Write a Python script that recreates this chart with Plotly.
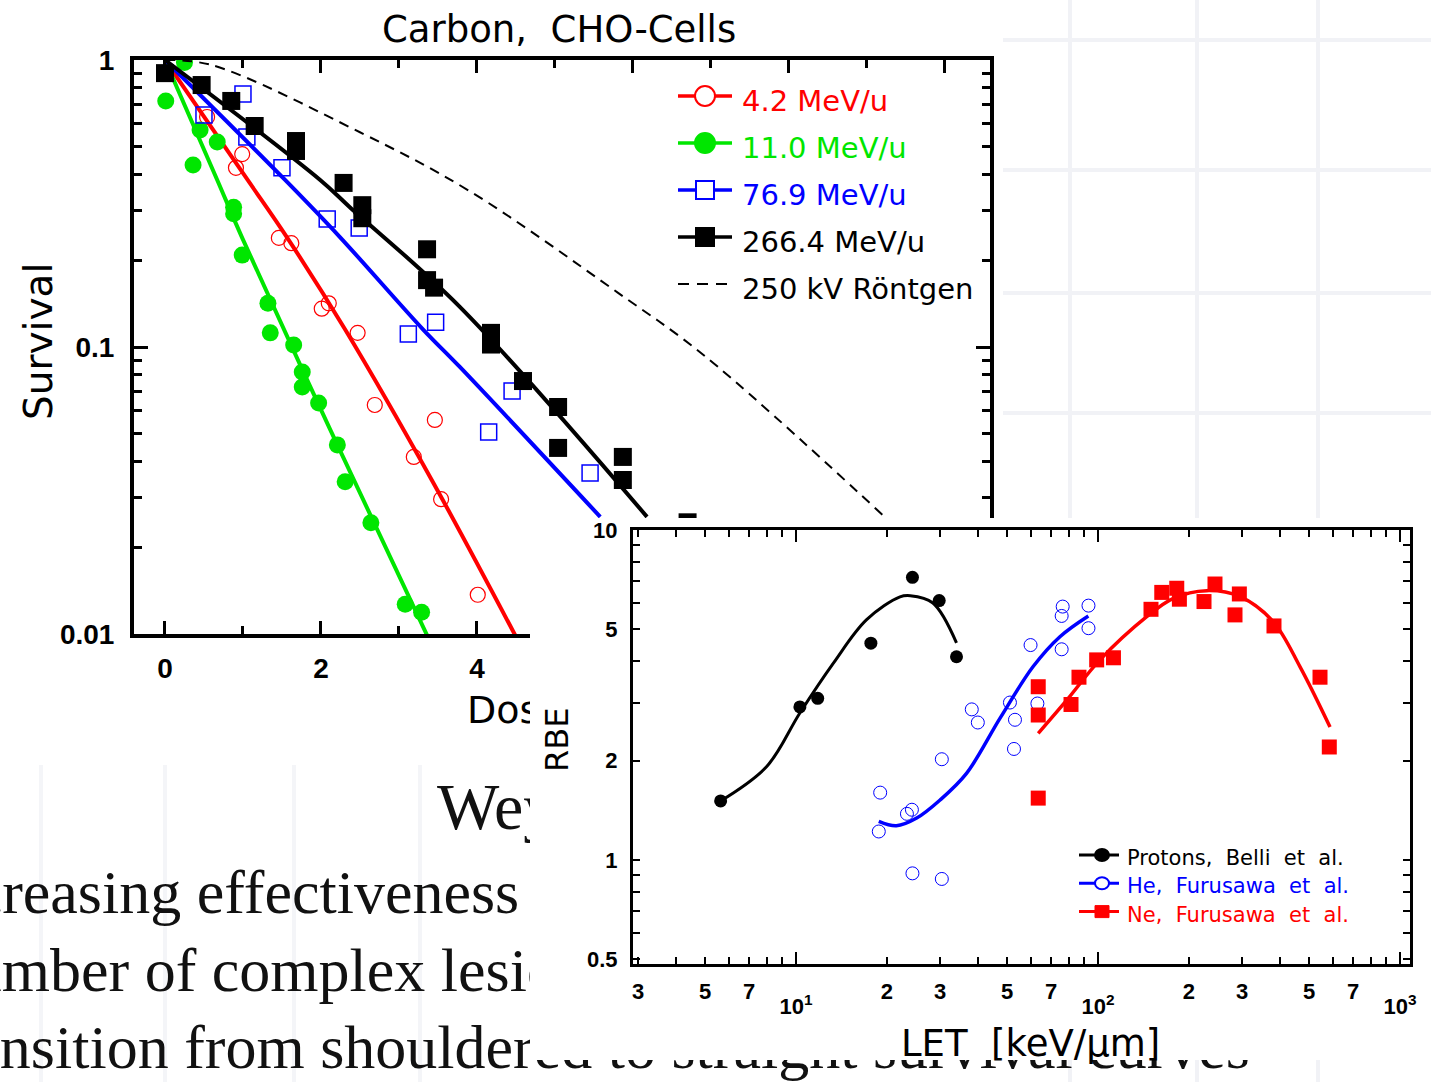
import plotly.graph_objects as go

W, H = 1431, 1082

# ---------------- Carbon ions on CHO cells: surviving fraction vs dose [Gy] ----------------
dose_42 = [0.54, 0.99, 0.91, 1.46, 1.62, 2.01, 2.10, 2.47, 2.69, 3.46, 3.19, 3.54, 4.01]
surv_42 = [0.633, 0.470, 0.421, 0.240, 0.230, 0.136, 0.142, 0.112, 0.0628, 0.0557, 0.0414, 0.0295, 0.0137]
fit_dose_42 = [0.0, 1.06, 1.56, 2.31, 3.42, 4.49]
fit_surv_42 = [1.0, 0.382, 0.242, 0.115, 0.0344, 0.0099]

dose_110 = [0.25, 0.01, 0.36, 0.45, 0.67, 0.88, 0.88, 0.99, 1.32, 1.35, 1.65, 1.76, 1.76,
            1.97, 2.21, 2.31, 2.64, 3.08, 3.29]
surv_110 = [0.98, 0.72, 0.431, 0.570, 0.518, 0.307, 0.291, 0.209, 0.142, 0.112, 0.1016, 0.0818,
            0.0726, 0.0638, 0.0456, 0.0339, 0.0244, 0.0127, 0.0119]
fit_dose_110 = [0.0, 0.67, 0.99, 2.12, 3.36]
fit_surv_110 = [1.0, 0.382, 0.240, 0.0514, 0.0099]

dose_769 = [0.50, 1.00, 1.05, 1.50, 2.08, 2.49, 3.12, 3.47, 4.45, 4.15, 5.45]
surv_769 = [0.643, 0.761, 0.539, 0.421, 0.279, 0.260, 0.111, 0.122, 0.0703, 0.0506, 0.0364]
fit_dose_769 = [0.0, 1.54, 2.24, 3.31, 3.78, 5.58]
fit_surv_769 = [1.0, 0.382, 0.242, 0.115, 0.0852, 0.0256]

dose_2664 = [0.0, 0.47, 0.85, 1.15, 1.68, 1.68, 2.29, 2.53, 2.53, 3.36, 3.36, 3.45, 4.18, 4.18,
             4.59, 5.04, 5.04, 5.87, 5.87, 6.70]
surv_2664 = [0.90, 0.818, 0.72, 0.589, 0.522, 0.482, 0.373, 0.312, 0.281, 0.219, 0.171, 0.161,
             0.112, 0.102, 0.0761, 0.0618, 0.0445, 0.0414, 0.0344, 0.0245]
fit_dose_2664 = [0.0, 1.99, 2.37, 3.78, 6.18]
fit_surv_2664 = [1.0, 0.382, 0.307, 0.138, 0.0256]

xray_dose = [0.0, 0.6, 2.5, 3.9, 5.8, 6.9, 9.2]
xray_surv = [1.0, 0.96, 0.56, 0.35, 0.155, 0.094, 0.026]

surv_labels = ["4.2 MeV/u", "11.0 MeV/u", "76.9 MeV/u", "266.4 MeV/u", "250 kV Röntgen"]

# ---------------- RBE vs LET [keV/um] ----------------
let_p = [5.63, 10.3, 11.8, 17.7, 24.3, 29.8, 34.0]
rbe_p = [1.51, 2.91, 3.09, 4.54, 7.19, 6.11, 4.13]
fit_let_p = [5.63, 8.0, 10.3, 13.3, 17.1, 22.1, 23.9, 28.4, 34.0]
fit_rbe_p = [1.51, 1.92, 2.79, 3.95, 5.34, 6.27, 6.32, 6.01, 4.55]

let_he = [19.0, 18.8, 23.3, 24.2, 24.3, 30.4, 30.4, 38.2, 40.0, 51.1, 53.1, 52.7, 63.0, 59.8,
          75.8, 76.4, 75.8, 93.0, 93.0]
rbe_he = [1.60, 1.22, 1.38, 1.42, 0.911, 0.876, 2.02, 2.86, 2.61, 3.00, 2.66, 2.17, 2.98, 4.48,
          5.49, 5.86, 4.35, 5.90, 5.04]
fit_let_he = [18.8, 21.5, 25.1, 30.0, 36.7, 47.4, 60.9, 74.8, 92.9]
fit_rbe_he = [1.31, 1.27, 1.34, 1.52, 1.83, 2.69, 3.85, 4.75, 5.49]

let_ne = [63.4, 63.4, 63.4, 81.4, 86.5, 99.0, 112.5, 149.8, 162.6, 182.3, 186.0, 224.4, 244.0,
          293.8, 284.2, 382.6, 543.4, 583.3]
rbe_ne = [3.35, 2.75, 1.54, 2.96, 3.58, 4.04, 4.10, 5.75, 6.47, 6.66, 6.17, 6.07, 6.86, 6.40,
          5.53, 5.12, 3.58, 2.20]
fit_let_ne = [63.4, 78.8, 101.5, 145.0, 177.6, 229.0, 295.3, 380.6, 466.7, 586.5]
fit_rbe_ne = [2.42, 3.05, 4.04, 5.46, 6.21, 6.55, 6.28, 5.27, 3.85, 2.53]

rbe_labels = ["Protons,  Belli  et  al.", "He,  Furusawa  et  al.", "Ne,  Furusawa  et  al."]

# digit labels inside each decade; the decades themselves get their own (lower) labels
let_ticks = [3, 5, 7, 20, 30, 50, 70, 200, 300, 500, 700]
let_ticktext = ["3", "5", "7", "2", "3", "5", "7", "2", "3", "5", "7"]
let_minor = [4, 6, 8, 9, 40, 60, 80, 90, 400, 600, 800, 900]
let_decades = [10, 100, 1000]
let_decade_text = ["10<sup>1</sup>", "10<sup>2</sup>", "10<sup>3</sup>"]
rbe_ticks = [0.5, 1, 2, 5, 10]
rbe_minor = [0.6, 0.7, 0.8, 0.9, 3, 4, 6, 7, 8, 9]
surv_ticks = [0.01, 0.1, 1]
surv_minor = [0.02, 0.03, 0.04, 0.05, 0.06, 0.07, 0.08, 0.09,
              0.2, 0.3, 0.4, 0.5, 0.6, 0.7, 0.8, 0.9]

# slide text lying behind the two figures (the dose-axis title sits on this layer too,
# so the inset card covers its right part)
page_text = ["Dose [Gy]", "Weyrather et al.", "Increasing effectiveness", "Number of complex lesions",
             "Transition from shouldered to straight survival curves"]
page_x = [467, 437, -77, -74, -84]
page_y = [713, 812, 897, 975, 1052]
page_font = ["DejaVu Sans", "Liberation Serif", "Liberation Serif", "Liberation Serif", "Liberation Serif"]
page_size = [38, 66, 62, 62, 62]
page_color = ["#000000", "#111111", "#111111", "#111111", "#111111"]

RED, GREEN, BLUE, BLACK = "#ff0000", "#00e600", "#0000ff", "#000000"


def fx(p):
    return p / W


def fy(p):
    return 1 - p / H


fig = go.Figure()

# ---- page layer (x/y) ----
fig.add_trace(go.Scatter(
    x=page_x, y=page_y, text=page_text, mode="text", textposition="middle right",
    textfont=dict(family=page_font, size=page_size, color=page_color),
    xaxis="x", yaxis="y", hoverinfo="skip", showlegend=False))

# ---- survival plot (x2/y2) ----
MAIN = dict(xaxis="x2", yaxis="y2", hoverinfo="skip", showlegend=False)
fig.add_trace(go.Scatter(x=dose_42, y=surv_42, mode="markers",
                         marker=dict(symbol="circle-open", size=15, color=RED, line=dict(width=1.2)), **MAIN))
fig.add_trace(go.Scatter(x=fit_dose_42, y=fit_surv_42, mode="lines", line=dict(color=RED, width=4, shape="spline"), **MAIN))
fig.add_trace(go.Scatter(x=dose_110, y=surv_110, mode="markers",
                         marker=dict(symbol="circle", size=17, color=GREEN), **MAIN))
fig.add_trace(go.Scatter(x=fit_dose_110, y=fit_surv_110, mode="lines", line=dict(color=GREEN, width=4, shape="spline"), **MAIN))
fig.add_trace(go.Scatter(x=dose_769, y=surv_769, mode="markers",
                         marker=dict(symbol="square-open", size=16, color=BLUE, line=dict(width=1.5)), **MAIN))
fig.add_trace(go.Scatter(x=fit_dose_769, y=fit_surv_769, mode="lines", line=dict(color=BLUE, width=4, shape="spline"), **MAIN))
fig.add_trace(go.Scatter(x=dose_2664, y=surv_2664, mode="markers",
                         marker=dict(symbol="square", size=18, color=BLACK), **MAIN))
fig.add_trace(go.Scatter(x=fit_dose_2664, y=fit_surv_2664, mode="lines", line=dict(color=BLACK, width=4, shape="spline"), **MAIN))
fig.add_trace(go.Scatter(x=xray_dose, y=xray_surv, mode="lines",
                         line=dict(color=BLACK, width=2, dash="10px,7px", shape="spline"), **MAIN))

# ---- white backing card of the inset (x3/y3) ----
fig.add_trace(go.Scatter(x=[], y=[], xaxis="x3", yaxis="y3", hoverinfo="skip", showlegend=False))

# ---- RBE inset (x4/y4) ----
INS = dict(xaxis="x4", yaxis="y4", hoverinfo="skip", showlegend=False)
fig.add_trace(go.Scatter(x=fit_let_p, y=fit_rbe_p, mode="lines", line=dict(color=BLACK, width=3, shape="spline"), **INS))
fig.add_trace(go.Scatter(x=let_p, y=rbe_p, mode="markers", marker=dict(symbol="circle", size=13, color=BLACK), **INS))
fig.add_trace(go.Scatter(x=fit_let_he, y=fit_rbe_he, mode="lines", line=dict(color=BLUE, width=3.5, shape="spline"), **INS))
fig.add_trace(go.Scatter(x=let_he, y=rbe_he, mode="markers",
                         marker=dict(symbol="circle-open", size=13, color=BLUE, line=dict(width=1)), **INS))
fig.add_trace(go.Scatter(x=fit_let_ne, y=fit_rbe_ne, mode="lines", line=dict(color=RED, width=3.5, shape="spline"), **INS))
fig.add_trace(go.Scatter(x=let_ne, y=rbe_ne, mode="markers", marker=dict(symbol="square", size=15, color=RED), **INS))
# decade ticks and their labels on an overlaid axis
fig.add_trace(go.Scatter(x=[None], y=[None], xaxis="x5", yaxis="y4", hoverinfo="skip", showlegend=False))


def tick_bold(s):
    return dict(family="Liberation Sans", size=s, color=BLACK, weight="bold")


layout_axes = dict(
    xaxis=dict(domain=[0, 1], range=[0, W], visible=False, fixedrange=True, automargin=False),
    yaxis=dict(domain=[0, 1], range=[H, 0], visible=False, fixedrange=True, automargin=False),
    xaxis2=dict(domain=[fx(134), fx(990)], anchor="y2", range=[-0.397, 10.577],
                showline=True, linewidth=4, linecolor=BLACK, mirror="ticks",
                ticks="inside", ticklen=13, tickwidth=3, tickcolor=BLACK,
                tick0=0, dtick=2, showgrid=False, zeroline=False,
                minor=dict(dtick=1, ticks="inside", ticklen=8, tickwidth=3, tickcolor=BLACK, showgrid=False),
                tickfont=tick_bold(28), ticklabelstandoff=6, fixedrange=True, automargin=False),
    yaxis2=dict(domain=[fy(634), fy(60)], anchor="x2", type="log", range=[-2, 0],
                showline=True, linewidth=4, linecolor=BLACK, mirror="ticks",
                ticks="inside", ticklen=14, tickwidth=3, tickcolor=BLACK,
                tickmode="array", tickvals=surv_ticks, ticktext=["0.01", "0.1", "1"],
                minor=dict(tickmode="array", tickvals=surv_minor, ticks="inside", ticklen=8,
                           tickwidth=3, tickcolor=BLACK, showgrid=False),
                showgrid=False, zeroline=False, tickfont=tick_bold(28), ticklabelstandoff=10,
                fixedrange=True, automargin=False),
    xaxis3=dict(domain=[fx(530), 1], anchor="y3", range=[0, 1], visible=False, fixedrange=True, automargin=False),
    yaxis3=dict(domain=[fy(1060), fy(518)], anchor="x3", range=[0, 1], visible=False, fixedrange=True,
                automargin=False),
    xaxis4=dict(domain=[fx(633), fx(1410)], anchor="y4", type="log", range=[0.4603, 3.0331],
                showline=True, linewidth=3, linecolor=BLACK, mirror="ticks",
                ticks="inside", ticklen=7, tickwidth=2, tickcolor=BLACK,
                tickmode="array", tickvals=let_ticks, ticktext=let_ticktext,
                minor=dict(tickmode="array", tickvals=let_minor, ticks="inside", ticklen=7,
                           tickwidth=2, tickcolor=BLACK, showgrid=False),
                showgrid=False, zeroline=False, tickfont=tick_bold(22), ticklabelstandoff=6,
                fixedrange=True, automargin=False),
    xaxis5=dict(overlaying="x4", anchor="y4", type="log", range=[0.4603, 3.0331],
                showline=False, mirror="ticks", ticks="inside", ticklen=12, tickwidth=2, tickcolor=BLACK,
                tickmode="array", tickvals=let_decades, ticktext=let_decade_text,
                tickfont=tick_bold(22), ticklabelstandoff=27,
                showgrid=False, zeroline=False, fixedrange=True, automargin=False),
    yaxis4=dict(domain=[fy(964), fy(530)], anchor="x4", type="log", range=[-0.3152, 1],
                showline=True, linewidth=3, linecolor=BLACK, mirror="ticks",
                ticks="inside", ticklen=7, tickwidth=2, tickcolor=BLACK,
                tickmode="array", tickvals=rbe_ticks, ticktext=["0.5", "1", "2", "5", "10"],
                minor=dict(tickmode="array", tickvals=rbe_minor, ticks="inside", ticklen=7,
                           tickwidth=2, tickcolor=BLACK, showgrid=False),
                showgrid=False, zeroline=False, tickfont=tick_bold(22), ticklabelstandoff=8,
                fixedrange=True, automargin=False),
)

shapes = []
# faint grid of the slide background
GRID = "#f1f2f6"
for gx in [1070, 1197, 1318]:
    shapes.append(dict(type="line", xref="paper", yref="paper", x0=fx(gx), x1=fx(gx), y0=0, y1=1,
                       line=dict(color=GRID, width=4), layer="below"))
for gy in [40, 170, 293, 413]:
    shapes.append(dict(type="line", xref="paper", yref="paper", x0=fx(1003), x1=1, y0=fy(gy), y1=fy(gy),
                       line=dict(color=GRID, width=4), layer="below"))
for gx in [41, 165, 294, 420]:
    shapes.append(dict(type="line", xref="paper", yref="paper", x0=fx(gx), x1=fx(gx), y0=0, y1=fy(765),
                       line=dict(color="#f4f5f8", width=4), layer="below"))

annotations = []

# legend of the survival plot
leg_colors = [RED, GREEN, BLUE, BLACK, BLACK]
for i, (name, col) in enumerate(zip(surv_labels, leg_colors)):
    yc = 96 + 47 * i
    if i < 4:
        shapes.append(dict(type="line", xref="paper", yref="paper", x0=fx(678), x1=fx(732), y0=fy(yc), y1=fy(yc),
                           line=dict(color=col, width=3.5), layer="above"))
    else:
        shapes.append(dict(type="line", xref="paper", yref="paper", x0=fx(678), x1=fx(732), y0=fy(yc), y1=fy(yc),
                           line=dict(color=col, width=2, dash="11px,8px"), layer="above"))
    if i in (0, 1):
        shapes.append(dict(type="circle", xref="paper", yref="paper", x0=fx(695), x1=fx(715),
                           y0=fy(yc + 10), y1=fy(yc - 10), layer="above",
                           fillcolor="white" if i == 0 else col, line=dict(color=col, width=2)))
    elif i in (2, 3):
        shapes.append(dict(type="rect", xref="paper", yref="paper", x0=fx(696), x1=fx(714),
                           y0=fy(yc + 9), y1=fy(yc - 9), layer="above",
                           fillcolor="white" if i == 2 else col, line=dict(color=col, width=2)))
    annotations.append(dict(xref="paper", yref="paper", x=fx(740), y=fy(yc + 5), xanchor="left", yanchor="middle",
                            text=name, showarrow=False, font=dict(family="DejaVu Sans", size=29, color=col)))

# legend of the RBE inset
ins_colors = [BLACK, BLUE, RED]
for i, (name, col) in enumerate(zip(rbe_labels, ins_colors)):
    yc = 855 + 28.3 * i
    shapes.append(dict(type="line", xref="paper", yref="paper", x0=fx(1079), x1=fx(1119), y0=fy(yc), y1=fy(yc),
                       line=dict(color=col, width=3), layer="above"))
    if i < 2:
        shapes.append(dict(type="circle", xref="paper", yref="paper", x0=fx(1095), x1=fx(1109),
                           y0=fy(yc + 6), y1=fy(yc - 6), layer="above",
                           fillcolor=col if i == 0 else "white", line=dict(color=col, width=2)))
    else:
        shapes.append(dict(type="rect", xref="paper", yref="paper", x0=fx(1095), x1=fx(1109),
                           y0=fy(yc + 6), y1=fy(yc - 6), layer="above",
                           fillcolor=col, line=dict(color=col, width=1)))
    annotations.append(dict(xref="paper", yref="paper", x=fx(1125), y=fy(yc + 3), xanchor="left", yanchor="middle",
                            text=name, showarrow=False, font=dict(family="DejaVu Sans", size=21, color=col)))

# titles
annotations += [
    dict(xref="paper", yref="paper", x=fx(559), y=fy(29), xanchor="center", yanchor="middle",
         text="Carbon,  CHO-Cells", showarrow=False, font=dict(family="DejaVu Sans", size=37, color=BLACK)),
    dict(xref="paper", yref="paper", x=fx(38), y=fy(342), xanchor="center", yanchor="middle", textangle=-90,
         text="Survival", showarrow=False, font=dict(family="DejaVu Sans", size=39, color=BLACK)),
    dict(xref="paper", yref="paper", x=fx(557), y=fy(740), xanchor="center", yanchor="middle", textangle=-90,
         text="RBE", showarrow=False, font=dict(family="DejaVu Sans", size=32, color=BLACK)),
    dict(xref="paper", yref="paper", x=fx(1030), y=fy(1043), xanchor="center", yanchor="middle",
         text="LET  [keV/μm]", showarrow=False, font=dict(family="DejaVu Sans", size=37, color=BLACK)),
]

fig.update_layout(
    width=W, height=H, autosize=False,
    margin=dict(l=0, r=0, t=0, b=0, pad=0, autoexpand=False),
    paper_bgcolor="white", plot_bgcolor="white",
    showlegend=False, hovermode=False,
    font=dict(family="DejaVu Sans", color=BLACK),
    shapes=shapes, annotations=annotations,
    **layout_axes,
)

fig.write_html("out.html")
